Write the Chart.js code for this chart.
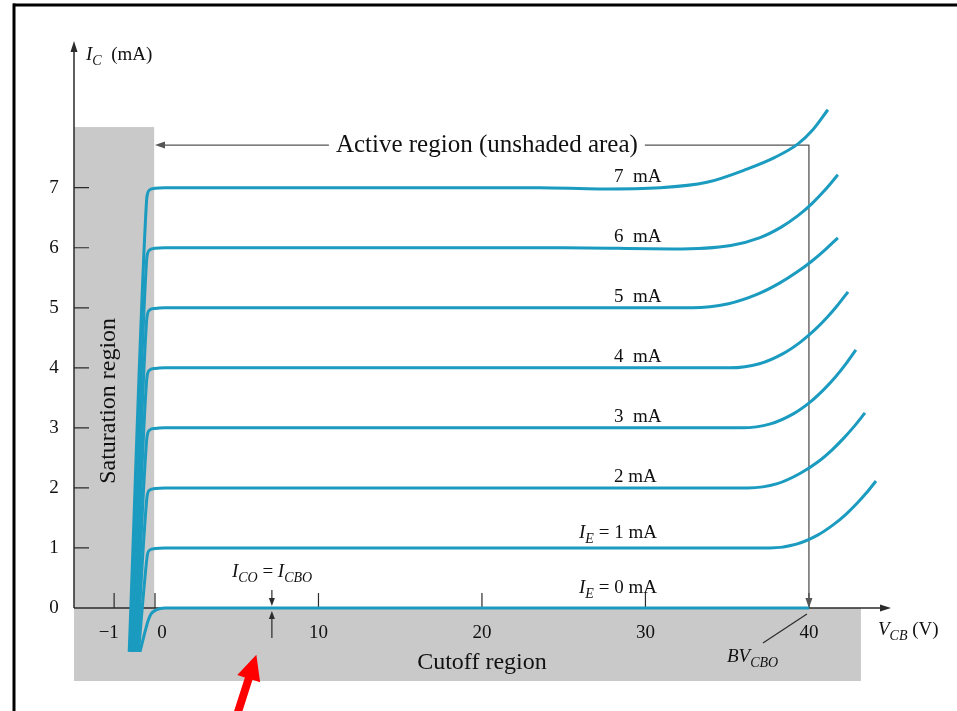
<!DOCTYPE html>
<html>
<head>
<meta charset="utf-8">
<script src="https://cdn.jsdelivr.net/npm/chart.js@4.4.1/dist/chart.umd.min.js"></script>
<style>
  html, body { margin: 0; padding: 0; background: #fff; }
  canvas { display: block; }
</style>
</head>
<body>
<canvas id="chart" width="957" height="711"></canvas>
<script>
// Common-base output characteristics (collector current vs V_CB)

// axis ticks
const xTickValues = [-1, 0, 10, 20, 30, 40];
const xTickLabels = ['\u22121', '0', '10', '20', '30', '40'];
const yTickValues = [0, 1, 2, 3, 4, 5, 6, 7];
const yTickLabels = ['0', '1', '2', '3', '4', '5', '6', '7'];

// one curve per emitter current, points are [V_CB (V), I_C (mA)]
const curveIE0 = [[-0.367, -0.73], [-0.232, -0.366], [-0.171, -0.217], [-0.098, -0.1], [0.06, -0.033], [0.61, 0], [40, 0]];
const curveIE1 = [[-0.404, -0.73], [-0.208, 0.767], [-0.183, 0.9], [-0.122, 0.967], [0, 0.99], [0.61, 1], [37.61, 1], [39.24, 1.063], [40.53, 1.213], [41.5, 1.388], [42.28, 1.565], [42.93, 1.74], [43.52, 1.918], [44.1, 2.116]];
const curveIE2 = [[-0.442, -0.73], [-0.208, 1.767], [-0.183, 1.9], [-0.122, 1.967], [0, 1.99], [0.61, 2], [36.27, 2], [38.07, 2.072], [39.45, 2.241], [40.56, 2.436], [41.42, 2.635], [42.13, 2.829], [42.78, 3.029], [43.43, 3.249]];
const curveIE3 = [[-0.48, -0.73], [-0.208, 2.767], [-0.183, 2.9], [-0.122, 2.967], [0, 2.99], [0.61, 3], [35.9, 3], [37.65, 3.067], [39.04, 3.233], [40.09, 3.433], [40.92, 3.641], [41.62, 3.848], [42.25, 4.061], [42.87, 4.299]];
const curveIE4 = [[-0.517, -0.73], [-0.208, 3.767], [-0.183, 3.9], [-0.122, 3.967], [0, 3.99], [0.61, 4], [35.17, 4], [36.97, 4.068], [38.42, 4.237], [39.5, 4.433], [40.37, 4.635], [41.09, 4.834], [41.74, 5.038], [42.39, 5.266]];
const curveIE5 = [[-0.555, -0.73], [-0.208, 4.767], [-0.183, 4.9], [-0.122, 4.967], [0, 4.99], [0.61, 5], [32.84, 5], [35.08, 5.068], [36.86, 5.227], [38.2, 5.41], [39.27, 5.595], [40.17, 5.776], [40.97, 5.961], [41.77, 6.166]];
const curveIE6 = [[-0.593, -0.73], [-0.208, 5.767], [-0.183, 5.9], [-0.122, 5.967], [0, 5.99], [0.61, 6], [25, 6], [31.7, 5.98], [35.22, 6.038], [36.97, 6.165], [38.28, 6.34], [39.33, 6.535], [40.2, 6.74], [40.98, 6.961], [41.77, 7.216]];
const curveIE7 = [[-0.631, -0.73], [-0.208, 6.767], [-0.183, 6.9], [-0.122, 6.967], [0, 6.99], [0.61, 7], [23.5, 7], [27.2, 6.98], [30.9, 7], [33.76, 7.09], [36.21, 7.31], [37.92, 7.505], [39.33, 7.73], [40.24, 7.966], [41.16, 8.299]];

const emitterCurrents = [0, 1, 2, 3, 4, 5, 6, 7];
const curveLabels = ['I_E = 0 mA', 'I_E = 1 mA', '2 mA', '3  mA', '4  mA', '5  mA', '6  mA', '7  mA'];
const curves = [curveIE0, curveIE1, curveIE2, curveIE3, curveIE4, curveIE5, curveIE6, curveIE7];

// region bounds
const saturationEdgeV = -0.02;
const saturationTopMA = 8.01;
const cutoffEdgeV = 43.18;
const breakdownV = 40;       // BV_CBO
const activeArrowMA = 7.71;
const icoV = 7.15;           // where I_CO = I_CBO is marked

const TEAL = '#1a9bbf';
const GRAY = '#c9c9c9';
const INK = '#2b2b2b';
const SERIF = '"Liberation Serif", "Times New Roman", serif';

// the figure is not to scale left of zero: negative volts are stretched
const NEG_STRETCH = 2.5;
class VcbScale extends Chart.LinearScale {
    getPixelForValue(value) {
        return super.getPixelForValue(value < 0 ? value * NEG_STRETCH : value);
    }
}
VcbScale.id = 'vcb';
VcbScale.defaults = Chart.LinearScale.defaults;
Chart.register(VcbScale);

// text with italic symbols and subscripts, e.g. "I_CBO"
function richText(ctx, str, x, y, size, align) {
    const parts = [];
    const re = /([A-Z]+)_([A-Z]+)/g;
    let last = 0, m;
    while ((m = re.exec(str))) {
        if (m.index > last) parts.push({ t: str.slice(last, m.index), f: `${size}px ${SERIF}`, dy: 0 });
        parts.push({ t: m[1], f: `italic ${size}px ${SERIF}`, dy: 0 });
        parts.push({ t: m[2], f: `italic ${Math.round(size * 0.74)}px ${SERIF}`, dy: size * 0.28 });
        last = re.lastIndex;
    }
    if (last < str.length) parts.push({ t: str.slice(last), f: `${size}px ${SERIF}`, dy: 0 });
    let w = 0;
    parts.forEach(p => { ctx.font = p.f; p.w = ctx.measureText(p.t).width; w += p.w; });
    let cx = align === 'right' ? x - w : align === 'center' ? x - w / 2 : x;
    ctx.textAlign = 'left';
    ctx.textBaseline = 'alphabetic';
    parts.forEach(p => { ctx.font = p.f; ctx.fillText(p.t, cx, y + p.dy); cx += p.w; });
}

function arrowHead(ctx, tx, ty, dx, dy, len, half) {
    // tip at (tx,ty), pointing along (dx,dy)
    const n = Math.hypot(dx, dy);
    const ux = dx / n, uy = dy / n;
    const bx = tx - ux * len, by = ty - uy * len;
    ctx.beginPath();
    ctx.moveTo(tx, ty);
    ctx.lineTo(bx - uy * half, by + ux * half);
    ctx.lineTo(bx + uy * half, by - ux * half);
    ctx.closePath();
    ctx.fill();
}

const schematicPlugin = {
    id: 'schematic',
    beforeDatasetsDraw(chart) {
        const { ctx, chartArea, scales: { x, y } } = chart;
        const y0 = y.getPixelForValue(0);
        ctx.save();

        // shaded regions
        ctx.fillStyle = GRAY;
        ctx.fillRect(chartArea.left, y.getPixelForValue(saturationTopMA),
            x.getPixelForValue(saturationEdgeV) - chartArea.left, y0 - y.getPixelForValue(saturationTopMA));
        ctx.fillRect(chartArea.left, y0, x.getPixelForValue(cutoffEdgeV) - chartArea.left, chartArea.bottom - y0);

        // axes with arrows
        ctx.strokeStyle = INK;
        ctx.fillStyle = INK;
        ctx.lineWidth = 1.5;
        ctx.beginPath();
        ctx.moveTo(chartArea.left, y0);
        ctx.lineTo(chartArea.right - 4, y0);
        ctx.moveTo(chartArea.left, y0);
        ctx.lineTo(chartArea.left, chartArea.top + 4);
        ctx.stroke();
        arrowHead(ctx, chartArea.right, y0, 1, 0, 11, 3.5);
        arrowHead(ctx, chartArea.left, chartArea.top - 1, 0, -1, 11, 3.5);

        // tick marks point into the plot
        ctx.lineWidth = 1.2;
        ctx.beginPath();
        xTickValues.forEach(v => {
            const px = x.getPixelForValue(v);
            ctx.moveTo(px, y0);
            ctx.lineTo(px, y0 - 15);
        });
        yTickValues.forEach(v => {
            if (v === 0) return;
            const py = y.getPixelForValue(v);
            ctx.moveTo(chartArea.left, py);
            ctx.lineTo(chartArea.left + 15, py);
        });
        ctx.stroke();

        // active region bracket
        const ay = y.getPixelForValue(activeArrowMA);
        const ax0 = x.getPixelForValue(0);
        const ax1 = x.getPixelForValue(breakdownV);
        ctx.strokeStyle = '#555';
        ctx.fillStyle = '#555';
        ctx.lineWidth = 1.3;
        ctx.beginPath();
        ctx.moveTo(ax0 + 6, ay);
        ctx.lineTo(ax1, ay);
        ctx.lineTo(ax1, y0 - 6);
        ctx.stroke();
        arrowHead(ctx, ax0, ay, -1, 0, 10, 3.5);
        arrowHead(ctx, ax1, y0, 0, 1, 10, 3.5);

        const activeText = 'Active region (unshaded area)';
        ctx.font = `25px ${SERIF}`;
        const tw = ctx.measureText(activeText).width;
        const tx = x.getPixelForValue(20.3);
        ctx.fillStyle = '#fff';
        ctx.fillRect(tx - tw / 2 - 7, ay - 12, tw + 14, 24);
        ctx.fillStyle = '#111';
        ctx.textAlign = 'center';
        ctx.textBaseline = 'alphabetic';
        ctx.fillText(activeText, tx, ay + 7);

        ctx.restore();
    },
    afterDraw(chart) {
        const { ctx, chartArea, scales: { x, y } } = chart;
        const y0 = y.getPixelForValue(0);
        ctx.save();
        ctx.fillStyle = '#111';
        ctx.strokeStyle = INK;

        // tick labels
        ctx.font = `19px ${SERIF}`;
        ctx.textAlign = 'center';
        ctx.textBaseline = 'middle';
        xTickValues.forEach((v, i) => {
            const label = xTickLabels[i];
            let px = x.getPixelForValue(v);
            if (label.startsWith('\u2212')) px -= ctx.measureText('\u2212').width / 2;
            if (v === 0) px += 7; // nudged clear of the saturation band
            ctx.fillText(label, px, y0 + 25);
        });
        yTickValues.forEach((v, i) => {
            ctx.fillText(yTickLabels[i], chartArea.left - 20, y.getPixelForValue(v));
        });

        // axis titles
        richText(ctx, 'I_C  (mA)', chartArea.left + 12, chartArea.top + 18, 19, 'left');
        richText(ctx, 'V_CB (V)', chartArea.right - 13, y0 + 27, 19, 'left');

        // curve labels sit just above their curves
        emitterCurrents.forEach((ie, i) => {
            const label = curveLabels[i];
            const py = y.getPixelForValue(ie) - (ie === 0 ? 15 : ie === 1 ? 10 : 6);
            if (label.includes('=')) richText(ctx, label, x.getPixelForValue(30.7), py, 19, 'right');
            else richText(ctx, label, x.getPixelForValue(28.07), py, 19, 'left');
        });

        // region names
        ctx.font = `24px ${SERIF}`;
        ctx.textAlign = 'center';
        ctx.textBaseline = 'alphabetic';
        ctx.fillText('Cutoff region', x.getPixelForValue(20), chartArea.bottom - 12);
        ctx.save();
        ctx.translate(chartArea.left + 41, y.getPixelForValue(3.45));
        ctx.rotate(-Math.PI / 2);
        ctx.fillText('Saturation region', 0, 0);
        ctx.restore();

        // I_CO = I_CBO marker
        const ix = x.getPixelForValue(icoV);
        richText(ctx, 'I_CO = I_CBO', ix - 40, y0 - 31, 19, 'left');
        ctx.lineWidth = 1.2;
        ctx.beginPath();
        ctx.moveTo(ix, y0 - 18);
        ctx.lineTo(ix, y0 - 6);
        ctx.moveTo(ix, y0 + 30);
        ctx.lineTo(ix, y0 + 8);
        ctx.stroke();
        ctx.fillStyle = INK;
        arrowHead(ctx, ix, y0 - 2, 0, 1, 8, 3);
        arrowHead(ctx, ix, y0 + 3, 0, -1, 8, 3);

        // BV_CBO callout
        const bx = x.getPixelForValue(breakdownV);
        ctx.beginPath();
        ctx.moveTo(bx - 2, y0 + 6);
        ctx.lineTo(bx - 46, y0 + 35);
        ctx.stroke();
        ctx.fillStyle = '#111';
        richText(ctx, 'BV_CBO', bx - 82, y0 + 54, 19, 'left');

        // red pointer
        const rtx = x.getPixelForValue(6.2), rty = y.getPixelForValue(-0.78);
        const ux = -0.306, uy = 0.952, nx = 0.952, ny = 0.306;
        const hb = [rtx + ux * 25, rty + uy * 25];
        const tail = [rtx + ux * 90, rty + uy * 90];
        ctx.fillStyle = '#ff0000';
        ctx.beginPath();
        ctx.moveTo(rtx, rty);
        ctx.lineTo(hb[0] + nx * 12, hb[1] + ny * 12);
        ctx.lineTo(hb[0] + nx * 4, hb[1] + ny * 4);
        ctx.lineTo(tail[0] + nx * 4, tail[1] + ny * 4);
        ctx.lineTo(tail[0] - nx * 4, tail[1] - ny * 4);
        ctx.lineTo(hb[0] - nx * 4, hb[1] - ny * 4);
        ctx.lineTo(hb[0] - nx * 12, hb[1] - ny * 12);
        ctx.closePath();
        ctx.fill();

        // page frame
        ctx.fillStyle = '#000';
        ctx.fillRect(13, 3.5, 957, 3);
        ctx.fillRect(12.5, 3.5, 3, 711);

        ctx.restore();
    }
};

const datasets = curves.map((pts, i) => ({
    label: `IE = ${emitterCurrents[i]} mA`,
    data: pts.map(([v, ma]) => ({ x: v, y: ma })),
    borderColor: TEAL,
    borderWidth: 3,
    pointRadius: 0,
    fill: false,
    cubicInterpolationMode: 'monotone'
}));

new Chart(document.getElementById('chart'), {
    type: 'line',
    data: { datasets },
    options: {
        responsive: false,
        animation: false,
        layout: { padding: { left: 74, right: 66, top: 42, bottom: 30 } },
        plugins: { legend: { display: false }, tooltip: { enabled: false } },
        scales: {
            x: { type: 'vcb', min: -4.954, max: 45.02, display: false },
            y: { type: 'linear', min: -1.216, max: 9.427, display: false }
        }
    },
    plugins: [schematicPlugin]
});
</script>
</body>
</html>
